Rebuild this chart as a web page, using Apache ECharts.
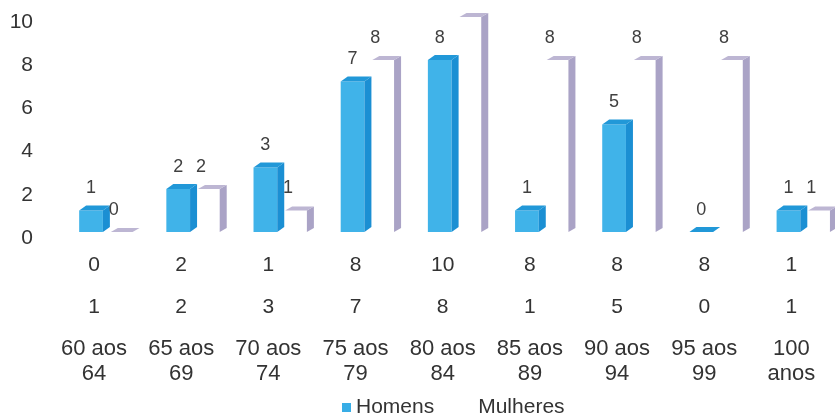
<!DOCTYPE html>
<html>
<head>
<meta charset="utf-8">
<script src="https://cdn.jsdelivr.net/npm/echarts@6/dist/echarts.min.js"></script>
<style>
html,body{margin:0;padding:0;background:#fff;}
#chart{width:835px;height:416px;}
</style>
</head>
<body>
<div id="chart"></div>
<script>
const categories = ['60 aos\n64','65 aos\n69','70 aos\n74','75 aos\n79','80 aos\n84','85 aos\n89','90 aos\n94','95 aos\n99','100\nanos'];
const homens = [1,2,3,7,8,1,5,0,1];
const mulheres = [0,2,1,8,10,8,8,8,1];
const yMin = 0, yMax = 10, yStep = 2;
const seriesNames = ['Homens','Mulheres'];

const FONT = 'Liberation Sans, Arial, sans-serif';
const TXT = '#333333';

function make3D(cfg){
  return function(params, api){
    const i = api.value(0), v = api.value(1);
    const base = api.coord([i, 0]);
    const top = api.coord([i, v]);
    const k = api.size([1, 0])[0] / 88.2;
    const c = base[0];
    const x0 = c + cfg.off * k, w = cfg.w * k, d = cfg.d, r = cfg.r;
    const ty = top[1], by = base[1];
    const children = [];
    if (by - ty > 0.5) {
      children.push({type:'rect', shape:{x:x0, y:ty, width:w, height:by-ty}, style:{fill:cfg.front}});
    }
    children.push({type:'polygon', shape:{points:[[x0+w,ty],[x0+w+d,ty-r],[x0+w+d,by-r],[x0+w,by]]}, style:{fill:cfg.side}});
    children.push({type:'polygon', shape:{points:[[x0,ty],[x0+w,ty],[x0+w+d,ty-r],[x0+d,ty-r]]}, style:{fill:cfg.topc}});
    children.push({type:'text', style:{text:String(v), x:c + cfg.lab * k, y:ty - 22, align:'center', verticalAlign:'middle', font:'18px ' + FONT, fill:'#404040'}});
    return {type:'group', children};
  };
}

const chart = echarts.init(document.getElementById('chart'));
const tableAxis = (margin, fmt, lh, fs) => ({
  type:'category', gridIndex:0, data:categories, position:'bottom',
  axisLine:{show:false}, axisTick:{show:false}, splitLine:{show:false},
  axisLabel:{interval:0, margin:margin, fontSize:fs, fontFamily:FONT, color:TXT, lineHeight:lh, formatter:fmt}
});
chart.setOption({
  animation:false,
  backgroundColor:'#ffffff',
  grid:[
    {left:50.4, width:793.8, top:17, bottom:184},
    {left:41, width:790, top:22, bottom:178}
  ],
  legend:{
    data:seriesNames, left:337, top:392, itemWidth:9, itemHeight:9, itemGap:30, icon:'rect',
    textStyle:{fontSize:21, fontFamily:FONT, color:TXT}
  },
  xAxis:[
    tableAxis(23, (v, i) => String(mulheres[i]), 21, 21),
    tableAxis(65, (v, i) => String(homens[i]), 21, 21),
    tableAxis(104, (v) => v, 25, 22),
    {type:'category', gridIndex:1, data:categories, show:false}
  ],
  yAxis:[
    {type:'value', gridIndex:0, min:yMin, max:yMax, interval:yStep, show:false},
    {type:'value', gridIndex:1, min:yMin, max:yMax, interval:yStep,
     axisLine:{show:false}, axisTick:{show:false}, splitLine:{show:false},
     axisLabel:{margin:8, fontSize:21, fontFamily:FONT, color:TXT}}
  ],
  series:[
    {name:seriesNames[0], type:'custom', xAxisIndex:0, yAxisIndex:0, itemStyle:{color:'#38ade6'},
     data:homens.map((v,i)=>[i,v]),
     renderItem:make3D({off:-15, w:24, d:7, r:5, front:'#40b3e9', side:'#1b8fd3', topc:'#2198d8', lab:-3})},
    {name:seriesNames[1], type:'custom', xAxisIndex:0, yAxisIndex:0, itemStyle:{color:'#ffffff'},
     data:mulheres.map((v,i)=>[i,v]),
     renderItem:make3D({off:17, w:22, d:7, r:4, front:'#ffffff', side:'#aaa3c6', topc:'#bdb6d3', lab:20})}
  ]
});
</script>
</body>
</html>
